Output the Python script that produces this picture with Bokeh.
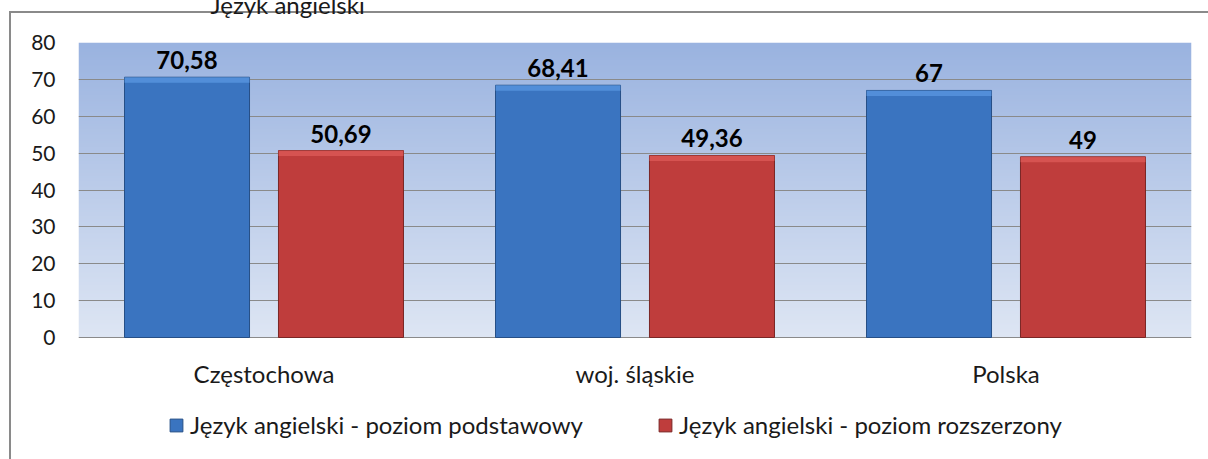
import numpy as np
from bokeh.plotting import figure
from bokeh.models import (FactorRange, Range1d, ColumnDataSource, Legend, LegendItem,
                          FixedTicker)
from bokeh.transform import dodge
from bokeh.core.properties import value
from bokeh.embed import file_html
from bokeh.resources import INLINE

# ---- data ----
categories = ["Częstochowa", "woj. śląskie", "Polska"]
podstawowy = [70.58, 68.41, 67]
rozszerzony = [50.69, 49.36, 49]
labels_podstawowy = ["70,58", "68,41", "67"]
labels_rozszerzony = ["50,69", "49,36", "49"]
series_names = ["Język angielski - poziom podstawowy", "Język angielski - poziom rozszerzony"]
y_ticks = [0, 10, 20, 30, 40, 50, 60, 70, 80]
chart_title = "Język angielski"

# ---- layout constants (pixels) ----
FONT = "Lato"
SHIFT = 38                      # canvas pulled up so the title is mostly cut off, as in the original
PAGE_W, PAGE_H = 1208, 459
W, H = PAGE_W, PAGE_H + SHIFT
PLOT_TOP, PLOT_ZERO = 42, 337   # page y of value 80 and of value 0
Y_MAX = 80
PX_PER_UNIT = (PLOT_ZERO - PLOT_TOP) / Y_MAX
Y_MIN = -(PAGE_H - PLOT_ZERO) / PX_PER_UNIT   # room below 0 for category names and legend
BEVEL = 1.5                     # height of the lighter top bevel, in value units

source = ColumnDataSource(dict(
    cat=categories, p=podstawowy, r=rozszerzony,
    p_bev=[v - BEVEL for v in podstawowy], r_bev=[v - BEVEL for v in rozszerzony],
    lp=labels_podstawowy, lr=labels_rozszerzony, base=[0] * len(categories)))

p = figure(x_range=FactorRange(*categories), y_range=Range1d(Y_MIN, Y_MAX),
           width=W, height=H, output_backend="svg", toolbar_location=None,
           x_axis_location=None,
           min_border_left=78, min_border_right=17, min_border_top=PLOT_TOP + SHIFT,
           min_border_bottom=0)
p.styles = {
    "margin-top": f"-{SHIFT}px",
    "background": (f"linear-gradient(#8a8a8a,#8a8a8a) 9px {11 + SHIFT}px / 2px 100% no-repeat, "
                   f"linear-gradient(#8a8a8a,#8a8a8a) 9px {11 + SHIFT}px / 100% 2px no-repeat, #ffffff"),
}
p.outline_line_color = None
p.background_fill_color = None
p.border_fill_color = None

# title (only its lower edge shows in the original)
p.title.text = chart_title
p.title.text_font = FONT
p.title.text_font_size = "24px"
p.title.text_font_style = "normal"
p.title.text_color = "#1a1a1a"
p.title.align = "left"
p.title.offset = 132
p.title.standoff = 48

# background gradient of the value area
N = 256
img = np.empty((N, 1), dtype=np.uint32)
view = img.view(dtype=np.uint8).reshape((N, 1, 4))
bottom_c = np.array([0xde, 0xe6, 0xf4])
top_c = np.array([0x9a, 0xb3, 0xe0])
for i in range(N):
    t = i / (N - 1)
    c = bottom_c * (1 - t) + top_c * t
    view[i, 0, 0:3] = c.astype(np.uint8)
    view[i, 0, 3] = 255
p.image_rgba(image=[img], x=0, y=0, dw=len(categories), dh=Y_MAX, level="image")

bw = 0.337
off = 0.2075
xp = dodge("cat", -off, range=p.x_range)
xr = dodge("cat", off, range=p.x_range)
r1 = p.vbar(x=xp, top="p", width=bw, source=source,
            fill_color="#3a74c0", line_color="#264f86", line_width=1)
r2 = p.vbar(x=xr, top="r", width=bw, source=source,
            fill_color="#bf3d3c", line_color="#7a2625", line_width=1)
# subtle lighter bevel on the bar tops
p.vbar(x=xp, top="p", bottom="p_bev", width=bw, source=source,
       fill_color="#5d9ae4", fill_alpha=0.7, line_color=None)
p.vbar(x=xr, top="r", bottom="r_bev", width=bw, source=source,
       fill_color="#df5c5a", fill_alpha=0.7, line_color=None)

# value labels
for xx, col, lab in ((xp, "p", "lp"), (xr, "r", "lr")):
    p.text(x=xx, y=col, text=lab, source=source,
           text_align="center", text_baseline="bottom", y_offset=-8,
           text_font=value(FONT), text_font_style="bold", text_font_size="24px",
           text_color="#000000")

# category names under the zero line
p.text(x="cat", y="base", text="cat", source=source,
       text_align="center", text_baseline="top", y_offset=21,
       text_font=value(FONT), text_font_size="24px", text_color="#1a1a1a")

p.ygrid.ticker = FixedTicker(ticks=y_ticks)
p.yaxis.ticker = FixedTicker(ticks=y_ticks)
p.ygrid.grid_line_color = "#8a8a8a"
p.xgrid.grid_line_color = None
p.yaxis.axis_line_color = None
p.yaxis.major_tick_line_color = None
p.yaxis.minor_tick_line_color = None
p.yaxis.major_tick_out = 0
p.yaxis.major_label_standoff = 23
p.yaxis.major_label_text_font_size = "21px"
p.yaxis.major_label_text_font = FONT
p.yaxis.major_label_text_color = "#1a1a1a"

legend = Legend(items=[LegendItem(label=series_names[0], renderers=[r1]),
                       LegendItem(label=series_names[1], renderers=[r2])],
                orientation="horizontal", location=(90, 20),
                glyph_width=16, glyph_height=16, label_standoff=6, spacing=45,
                label_width=422,
                padding=0, margin=0, border_line_color=None, background_fill_alpha=0,
                label_text_font=FONT, label_text_font_size="24px", label_text_color="#1a1a1a")
p.add_layout(legend, "center")

open("out.html", "w").write(file_html(p, INLINE))
